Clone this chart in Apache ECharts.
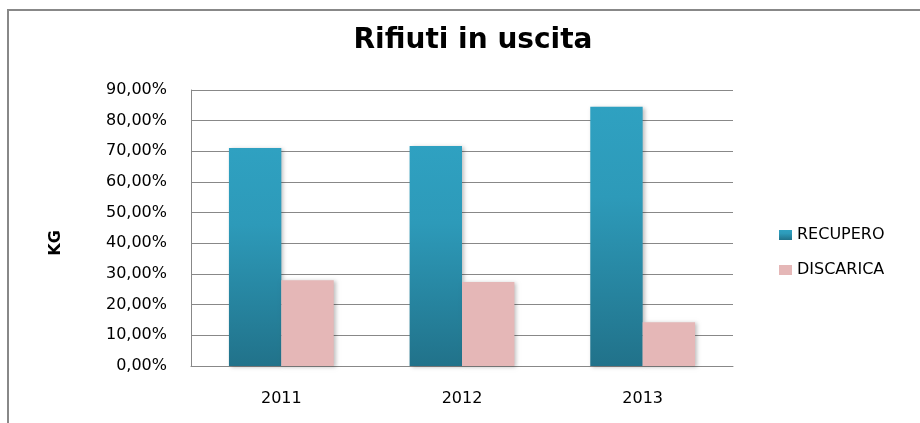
<!DOCTYPE html>
<html>
<head>
<meta charset="utf-8">
<script src="https://cdn.jsdelivr.net/npm/echarts@6/dist/echarts.min.js"></script>
<style>
html, body { margin: 0; padding: 0; background: #fff; }
#chart { width: 920px; height: 423px; }
</style>
</head>
<body>
<div id="chart"></div>
<script>
var years = ['2011', '2012', '2013'];
var recupero = [71.1, 71.7, 84.5];
var discarica = [28.0, 27.4, 14.3];
var yTicks = { min: 0, max: 90, interval: 10 };

var myChart = echarts.init(document.getElementById('chart'));

var barShadow = {
	shadowColor: 'rgba(0,0,0,0.25)',
	shadowBlur: 4,
	shadowOffsetX: 2,
	shadowOffsetY: 1
};

var option = {
	animation: false,
	backgroundColor: '#fff',
	title: {
		text: 'Rifiuti in uscita',
		left: 468,
		top: 22,
		textAlign: 'center',
		textStyle: { fontFamily: 'DejaVu Sans', fontWeight: 'bold', fontSize: 28, color: '#000' }
	},
	graphic: [{
		type: 'rect',
		shape: { x: 8, y: 10, width: 1000, height: 600 },
		style: { fill: null, stroke: '#888', lineWidth: 2 },
		silent: true
	}],
	legend: {
		orient: 'vertical',
		left: 774,
		top: 222,
		itemWidth: 13,
		itemHeight: 10,
		itemGap: 19,
		icon: 'rect',
		textStyle: { fontFamily: 'DejaVu Sans', fontSize: 16, color: '#000' },
		data: ['RECUPERO', 'DISCARICA']
	},
	grid: { left: 191, right: 187, top: 90, bottom: 57 },
	xAxis: {
		type: 'category',
		data: years,
		axisTick: { show: false },
		axisLine: { lineStyle: { color: '#888', width: 1 } },
		axisLabel: { fontFamily: 'DejaVu Sans', fontSize: 16, color: '#000', margin: 25 }
	},
	yAxis: {
		type: 'value',
		min: yTicks.min,
		max: yTicks.max,
		interval: yTicks.interval,
		name: 'KG',
		nameLocation: 'middle',
		nameRotate: 90,
		nameGap: 127,
		nameTextStyle: { fontFamily: 'DejaVu Sans', fontWeight: 'bold', fontSize: 16, color: '#000', padding: [0, 30, 0, 0] },
		axisLine: { show: true, lineStyle: { color: '#888', width: 1 } },
		axisTick: { show: false },
		splitLine: { lineStyle: { color: '#888', width: 1 } },
		axisLabel: {
			fontFamily: 'DejaVu Sans', fontSize: 16, color: '#000', margin: 24,
			formatter: function (v) { return v.toFixed(2).replace('.', ',') + '%'; }
		}
	},
	series: [
		{
			name: 'RECUPERO',
			type: 'bar',
			data: recupero,
			barGap: '0%',
			barCategoryGap: '42%',
			itemStyle: Object.assign({
				color: new echarts.graphic.LinearGradient(0, 0, 0, 1, [
					{ offset: 0, color: '#2fa1c1' },
					{ offset: 0.35, color: '#2d9ab9' },
					{ offset: 1, color: '#21728a' }
				])
			}, barShadow)
		},
		{
			name: 'DISCARICA',
			type: 'bar',
			data: discarica,
			itemStyle: Object.assign({ color: '#e5b7b7' }, barShadow)
		}
	]
};
myChart.setOption(option);
</script>
</body>
</html>
